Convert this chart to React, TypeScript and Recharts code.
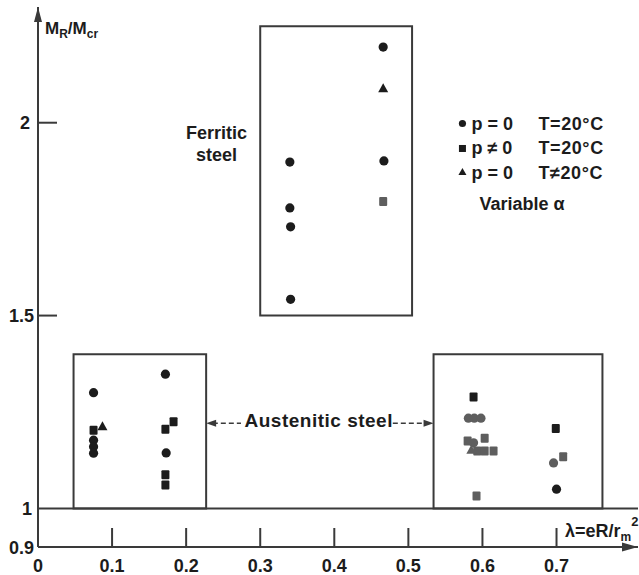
import React from 'react';
import { ScatterChart, Scatter, XAxis, YAxis, ReferenceArea, ReferenceLine, ReferenceDot } from 'recharts';

// ---- data ----
const xTicks = [0, 0.1, 0.2, 0.3, 0.4, 0.5, 0.6, 0.7];
const yTicks = [0.9, 1, 1.5, 2];

const circlesDark = [
  { x: 0.075, y: 1.3 }, { x: 0.075, y: 1.177 }, { x: 0.075, y: 1.16 }, { x: 0.075, y: 1.143 },
  { x: 0.172, y: 1.348 }, { x: 0.173, y: 1.144 },
  { x: 0.34, y: 1.898 }, { x: 0.34, y: 1.779 }, { x: 0.341, y: 1.73 }, { x: 0.341, y: 1.542 },
  { x: 0.466, y: 2.196 }, { x: 0.467, y: 1.901 },
  { x: 0.7, y: 1.05 },
];
const circlesGray = [
  { x: 0.581, y: 1.234 }, { x: 0.589, y: 1.234 }, { x: 0.598, y: 1.234 },
  { x: 0.588, y: 1.17 }, { x: 0.696, y: 1.118 },
];
const squaresDark = [
  { x: 0.075, y: 1.203 }, { x: 0.172, y: 1.205 }, { x: 0.183, y: 1.225 },
  { x: 0.172, y: 1.087 }, { x: 0.172, y: 1.061 },
  { x: 0.588, y: 1.289 }, { x: 0.699, y: 1.207 },
];
const squaresGray = [
  { x: 0.466, y: 1.796 },
  { x: 0.58, y: 1.175 }, { x: 0.603, y: 1.182 }, { x: 0.593, y: 1.149 },
  { x: 0.603, y: 1.149 }, { x: 0.615, y: 1.149 }, { x: 0.592, y: 1.032 }, { x: 0.709, y: 1.134 },
];
const trianglesDark = [{ x: 0.087, y: 1.212 }, { x: 0.466, y: 2.088 }];
const trianglesGray = [{ x: 0.585, y: 1.151 }];

const boxes = [
  { x1: 0.048, x2: 0.227, y1: 1, y2: 1.4 },
  { x1: 0.3, x2: 0.505, y1: 1.5, y2: 2.25 },
  { x1: 0.534, x2: 0.762, y1: 1, y2: 1.4 },
];

const legendRows = [
  { p: 'p = 0', t: 'T=20°C' },
  { p: 'p ≠ 0', t: 'T=20°C' },
  { p: 'p = 0', t: 'T≠20°C' },
];

// ---- styles ----
const INK = '#1c1c1c';
const LINE = '#3a3a3a';
const GRAY = '#5e5e5e';
const FONT = '"Liberation Sans", Arimo, sans-serif';

const circleShape = (fill: string) => (p: any) => <circle cx={p.cx} cy={p.cy} r={4.6} fill={fill} />;
const squareShape = (fill: string) => (p: any) => (
  <rect x={p.cx - 4} y={p.cy - 4.5} width={8} height={9} rx={1} fill={fill} />
);
const triangleShape = (fill: string) => (p: any) => (
  <path d={`M${p.cx},${p.cy - 5.5} L${p.cx + 5},${p.cy + 3.5} L${p.cx - 5},${p.cy + 3.5} Z`} fill={fill} />
);

const YTick = (props: any) => {
  const { x, y, payload } = props;
  const v = payload.value;
  const label = v === 0.9 ? '0.9' : v === 1.5 ? '1.5' : String(v);
  const dx = v === 2 ? -8 : v === 1 ? -6 : -4;
  return (
    <g>
      {(v === 2 || v === 1.5) && <line x1={x} x2={x + 19} y1={y} y2={y} stroke={LINE} strokeWidth={2} />}
      <text x={x + dx} y={y} dy={6.5} textAnchor="end" fontFamily={FONT} fontWeight="bold" fontSize={18} fill={INK}>
        {label}
      </text>
    </g>
  );
};

const XTick = (props: any) => {
  const { x, y, payload } = props;
  const v = payload.value;
  return (
    <g>
      {v > 0 && <line x1={x} x2={x} y1={y} y2={y - 19} stroke={LINE} strokeWidth={2} />}
      <text x={x} y={y + 24.5} textAnchor="middle" fontFamily={FONT} fontWeight="bold" fontSize={18} fill={INK}>
        {v === 0 ? '0' : v.toFixed(1)}
      </text>
    </g>
  );
};

const txt = (content: React.ReactNode, size = 18, spacing = 0) => (p: any) => (
  <text x={p.cx} y={p.cy} textAnchor="middle" fontFamily={FONT} fontWeight="bold" fontSize={size}
    fill={INK} letterSpacing={spacing}>
    {content}
  </text>
);

const yArrow = (p: any) => (
  <g>
    <path d={`M${p.cx},${p.cy} L${p.cx + 4},${p.cy + 15} L${p.cx - 4},${p.cy + 15} Z`} fill={LINE} />
    <text x={p.cx + 7} y={p.cy + 27} fontFamily={FONT} fontWeight="bold" fontSize={17} fill={INK}>
      M<tspan fontSize={12} dy={4}>R</tspan><tspan dy={-4}>/M</tspan><tspan fontSize={12} dy={4}>cr</tspan>
    </text>
  </g>
);

const xArrow = (p: any) => (
  <g>
    <path d={`M${p.cx},${p.cy} L${p.cx - 16},${p.cy - 4.5} L${p.cx - 16},${p.cy + 4.5} Z`} fill={LINE} />
    <text x={p.cx - 73} y={p.cy - 10} fontFamily={FONT} fontWeight="bold" fontSize={18} fill={INK}>
      λ=eR/r<tspan fontSize={12} dy={4}>m</tspan><tspan fontSize={13} dy={-15}>2</tspan>
    </text>
  </g>
);

const leftHead = (p: any) => (
  <path d={`M${p.cx},${p.cy} L${p.cx + 10},${p.cy - 3.5} L${p.cx + 10},${p.cy + 3.5} Z`} fill={LINE} />
);
const rightHead = (p: any) => (
  <path d={`M${p.cx},${p.cy} L${p.cx - 10},${p.cy - 3.5} L${p.cx - 10},${p.cy + 3.5} Z`} fill={LINE} />
);

const legendShape = (p: any) => (
  <g fontFamily={FONT} fontWeight="bold" fontSize={18} fill={INK}>
    <circle cx={p.cx} cy={p.cy} r={3.6} fill={INK} />
    <rect x={p.cx - 3.5} y={p.cy + 25 - 3.5} width={7} height={7} fill={INK} />
    <path d={`M${p.cx},${p.cy + 49 - 4.5} L${p.cx + 4},${p.cy + 49 + 2.5} L${p.cx - 4},${p.cy + 49 + 2.5} Z`} fill={INK} />
    {legendRows.map((r, i) => (
      <g key={i}>
        <text x={p.cx + 9} y={p.cy + i * 24.5 + 6.5}>{r.p}</text>
        <text x={p.cx + 76} y={p.cy + i * 24.5 + 6.5} letterSpacing={0.6}>{r.t}</text>
      </g>
    ))}
    <text x={p.cx + 17} y={p.cy + 87}>Variable α</text>
  </g>
);

export default function App() {
  return (
    <div style={{ position: 'absolute', left: 0, top: 0, width: 639, height: 575, background: '#fff' }}>
      <ScatterChart width={639} height={575} margin={{ top: 7, right: 1, bottom: 0, left: 0 }}>
        <XAxis
          type="number" dataKey="x" domain={[0, 0.81]} ticks={xTicks} height={28}
          axisLine={{ stroke: LINE, strokeWidth: 2 }} tickLine={false} tickSize={0} tickMargin={0}
          tick={<XTick />} allowDataOverflow interval={0}
        />
        <YAxis
          type="number" dataKey="y" domain={[0.9, 2.3]} ticks={yTicks} width={38}
          axisLine={{ stroke: LINE, strokeWidth: 2 }} tickLine={false} tickSize={0} tickMargin={0}
          tick={<YTick />} allowDataOverflow interval={0}
        />
        <ReferenceLine y={1} stroke={LINE} strokeWidth={2} ifOverflow="visible" />
        {boxes.map((b, i) => (
          <ReferenceArea key={i} x1={b.x1} x2={b.x2} y1={b.y1} y2={b.y2} fill="none" fillOpacity={0}
            stroke={LINE} strokeWidth={2} ifOverflow="visible" />
        ))}
        <ReferenceLine segment={[{ x: 0.236, y: 1.221 }, { x: 0.274, y: 1.221 }]} stroke={LINE} strokeWidth={1.5} strokeDasharray="5 3" ifOverflow="visible" />
        <ReferenceLine segment={[{ x: 0.479, y: 1.221 }, { x: 0.522, y: 1.221 }]} stroke={LINE} strokeWidth={1.5} strokeDasharray="5 3" ifOverflow="visible" />
        <ReferenceDot x={0.227} y={1.221} ifOverflow="visible" shape={leftHead} />
        <ReferenceDot x={0.534} y={1.221} ifOverflow="visible" shape={rightHead} />
        <ReferenceDot x={0} y={2.3} ifOverflow="visible" shape={yArrow} />
        <ReferenceDot x={0.81} y={0.9} ifOverflow="visible" shape={xArrow} />
        <ReferenceDot x={0.241} y={1.957} ifOverflow="visible" shape={txt('Ferritic')} />
        <ReferenceDot x={0.241} y={1.9} ifOverflow="visible" shape={txt('steel')} />
        <ReferenceDot x={0.379} y={1.211} ifOverflow="visible" shape={txt('Austenitic steel', 19, 0.5)} />
        <ReferenceDot x={0.573} y={1.998} ifOverflow="visible" shape={legendShape} />
        <Scatter data={circlesDark} isAnimationActive={false} shape={circleShape(INK)} />
        <Scatter data={circlesGray} isAnimationActive={false} shape={circleShape(GRAY)} />
        <Scatter data={squaresDark} isAnimationActive={false} shape={squareShape(INK)} />
        <Scatter data={squaresGray} isAnimationActive={false} shape={squareShape(GRAY)} />
        <Scatter data={trianglesDark} isAnimationActive={false} shape={triangleShape(INK)} />
        <Scatter data={trianglesGray} isAnimationActive={false} shape={triangleShape(GRAY)} />
      </ScatterChart>
    </div>
  );
}
